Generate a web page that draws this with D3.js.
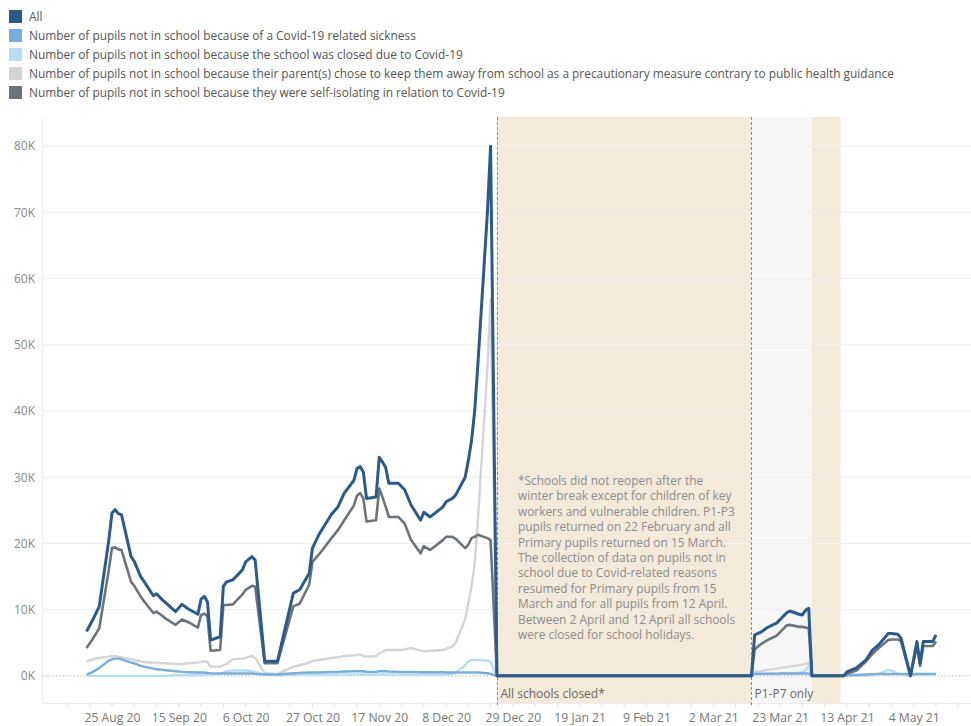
<!DOCTYPE html>
<html>
<head>
<meta charset="utf-8">
<script src="https://cdn.jsdelivr.net/npm/d3@7"></script>
<style>
  html, body { margin: 0; padding: 0; background: #fff; }
  svg { display: block; font-family: "Open Sans", "Noto Sans", sans-serif; }
</style>
</head>
<body>
<svg id="chart" width="971" height="726"></svg>
<script>
// ---------------- DATA ----------------
const dates = [
  "2020-08-17","2020-08-19","2020-08-21","2020-08-24","2020-08-25","2020-08-26","2020-08-27","2020-08-28",
  "2020-08-31","2020-09-01","2020-09-03","2020-09-04","2020-09-07","2020-09-08","2020-09-10","2020-09-11",
  "2020-09-14","2020-09-16","2020-09-18","2020-09-21","2020-09-22","2020-09-23","2020-09-24","2020-09-25",
  "2020-09-28","2020-09-29","2020-09-30","2020-10-02","2020-10-05","2020-10-06","2020-10-08","2020-10-09",
  "2020-10-12","2020-10-16","2020-10-21","2020-10-23","2020-10-26","2020-10-27","2020-10-29","2020-11-02",
  "2020-11-04","2020-11-06","2020-11-09","2020-11-10","2020-11-11","2020-11-12","2020-11-13","2020-11-16",
  "2020-11-17","2020-11-18","2020-11-19","2020-11-20","2020-11-23","2020-11-25","2020-11-27","2020-11-30",
  "2020-12-01","2020-12-03","2020-12-07","2020-12-08","2020-12-10","2020-12-11","2020-12-14","2020-12-15",
  "2020-12-16","2020-12-17","2020-12-18","2020-12-21","2020-12-22","2020-12-24",
  "2021-03-14","2021-03-15","2021-03-17","2021-03-19","2021-03-22","2021-03-23","2021-03-25","2021-03-26",
  "2021-03-29","2021-03-30","2021-03-31","2021-04-01","2021-04-02",
  "2021-04-12","2021-04-13","2021-04-16","2021-04-19","2021-04-21","2021-04-23","2021-04-26","2021-04-27",
  "2021-04-29","2021-04-30","2021-05-03","2021-05-05","2021-05-06","2021-05-07","2021-05-10","2021-05-11"
];

// values in thousands of pupils
const allPupils = [
  6.7, 8.5, 10.5, 20.5, 24.6, 25.1, 24.5, 24.3,
  18.0, 17.3, 15.0, 14.3, 12.1, 12.4, 11.4, 11.0,
  9.7, 10.8, 10.1, 9.3, 11.6, 12.0, 11.2, 5.4,
  5.9, 13.5, 14.2, 14.5, 16.0, 17.2, 18.0, 17.5,
  2.2, 2.2, 12.5, 13.0, 15.5, 19.3, 21.3, 24.4,
  25.5, 27.6, 29.5, 31.3, 31.6, 30.8, 26.8, 27.0,
  33.0, 32.3, 31.5, 29.1, 29.1, 28.1, 25.8, 23.5,
  24.7, 24.0, 25.5, 26.3, 26.8, 27.3, 30.0, 32.5,
  35.5, 40.0, 47.0, 70.0, 80.0, 0,
  0, 6.2, 6.6, 7.3, 8.0, 8.5, 9.5, 9.8,
  9.3, 9.2, 9.9, 10.2, 0,
  0, 0.6, 1.2, 2.4, 3.9, 4.7, 6.4, 6.4,
  6.3, 5.7, 0, 5.2, 1.9, 5.2, 5.2, 6.2
];

const sickness = [
  0.2, 0.6, 1.2, 2.3, 2.5, 2.6, 2.6, 2.5,
  2.0, 1.9, 1.5, 1.4, 1.1, 1.0, 0.9, 0.85,
  0.7, 0.6, 0.55, 0.5, 0.5, 0.5, 0.45, 0.4,
  0.35, 0.35, 0.35, 0.35, 0.35, 0.35, 0.35, 0.3,
  0.2, 0.2, 0.4, 0.45, 0.5, 0.5, 0.5, 0.6,
  0.6, 0.65, 0.7, 0.7, 0.7, 0.7, 0.6, 0.6,
  0.7, 0.7, 0.7, 0.65, 0.6, 0.6, 0.6, 0.55,
  0.55, 0.55, 0.55, 0.5, 0.5, 0.5, 0.5, 0.5,
  0.5, 0.5, 0.5, 0.4, 0.3, 0,
  0, 0.3, 0.3, 0.3, 0.3, 0.35, 0.35, 0.35,
  0.35, 0.35, 0.35, 0.35, 0,
  0, 0.1, 0.15, 0.2, 0.25, 0.3, 0.3, 0.3,
  0.3, 0.3, 0.2, 0.3, 0.3, 0.3, 0.3, 0.3
];

const schoolClosed = [
  0, 0, 0, 0, 0, 0, 0, 0,
  0, 0, 0, 0, 0, 0, 0, 0,
  0.1, 0.1, 0.1, 0.1, 0.1, 0.2, 0.2, 0.2,
  0.3, 0.5, 0.7, 0.8, 0.8, 0.8, 0.7, 0.6,
  0.2, 0.1, 0.2, 0.2, 0.2, 0.2, 0.2, 0.2,
  0.2, 0.2, 0.2, 0.2, 0.2, 0.2, 0.2, 0.2,
  0.2, 0.2, 0.2, 0.2, 0.2, 0.2, 0.2, 0.2,
  0.2, 0.2, 0.2, 0.2, 0.3, 0.5, 1.6, 2.2,
  2.4, 2.4, 2.4, 2.3, 2.1, 0,
  0, 0.4, 0.4, 0.4, 0.4, 0.4, 0.4, 0.4,
  0.5, 0.6, 0.9, 1.5, 0,
  0, 0.05, 0.05, 0.1, 0.2, 0.3, 0.9, 0.8,
  0.3, 0.2, 0.1, 0.2, 0.2, 0.2, 0.3, 0.3
];

const precaution = [
  2.2, 2.5, 2.7, 2.9, 3.0, 3.0, 2.9, 2.8,
  2.5, 2.4, 2.2, 2.1, 2.0, 2.0, 1.9, 1.9,
  1.8, 1.8, 1.9, 2.0, 2.1, 2.2, 2.1, 1.4,
  1.4, 1.6, 1.8, 2.5, 2.6, 2.7, 3.0, 2.7,
  0.4, 0.3, 1.4, 1.6, 2.0, 2.2, 2.4, 2.7,
  2.8, 3.0, 3.1, 3.2, 3.2, 3.0, 2.9, 3.0,
  3.4, 3.6, 3.9, 3.9, 3.9, 4.0, 4.2, 3.8,
  3.7, 3.8, 3.9, 4.1, 4.4, 5.0, 8.5, 11.0,
  13.5, 17.0, 23.5, 46.5, 57.0, 0,
  0, 0.6, 0.7, 0.9, 1.1, 1.2, 1.3, 1.4,
  1.6, 1.7, 1.8, 1.9, 0,
  0, 0.05, 0.1, 0.1, 0.15, 0.2, 0.2, 0.2,
  0.2, 0.2, 0.1, 0.2, 0.2, 0.2, 0.2, 0.2
];

const selfIsolating = [
  4.2, 5.6, 7.2, 16.0, 19.3, 19.4, 19.1, 19.0,
  14.2, 13.6, 12.0, 11.3, 9.5, 9.7, 9.0, 8.6,
  7.7, 8.5, 8.1, 7.3, 9.2, 9.4, 9.0, 3.8,
  3.9, 10.7, 10.7, 10.8, 12.3, 13.0, 13.6, 13.5,
  1.9, 1.9, 10.5, 10.9, 13.8, 17.2, 18.3, 20.8,
  22.0, 23.5, 25.7, 27.2, 27.6, 26.8, 23.3, 23.5,
  28.3, 27.0, 25.6, 24.0, 24.0, 23.0, 20.5, 18.5,
  19.6, 19.0, 20.5, 21.0, 21.0, 20.7, 19.3, 19.8,
  20.8, 21.0, 21.3, 20.8, 20.5, 0,
  0, 4.0, 4.8, 5.4, 6.1, 6.6, 7.6, 7.7,
  7.4, 7.4, 7.3, 7.2, 0,
  0, 0.3, 0.8, 2.2, 3.3, 4.2, 5.4, 5.5,
  5.5, 5.2, 0, 4.5, 1.5, 4.5, 4.5, 5.2
];

const seriesNames = [
  "All",
  "Number of pupils not in school because of a Covid-19 related sickness",
  "Number of pupils not in school because the school was closed due to Covid-19",
  "Number of pupils not in school because their parent(s) chose to keep them away from school as a precautionary measure contrary to public health guidance",
  "Number of pupils not in school because they were self-isolating in relation to Covid-19"
];
const seriesColors = ["#2b5b8c", "#78aedb", "#b7ddf3", "#d4d4d4", "#6c747b"];

const yTickValues = [0, 10, 20, 30, 40, 50, 60, 70, 80];
const xTickLabels = ["2020-08-25","2020-09-15","2020-10-06","2020-10-27","2020-11-17","2020-12-08",
                     "2020-12-29","2021-01-19","2021-02-09","2021-03-02","2021-03-23","2021-04-13","2021-05-04"];

const closedBands = [
  { start: "2020-12-24", end: "2021-03-14", kind: "closed" },
  { start: "2021-03-14", end: "2021-04-02", kind: "primary" },
  { start: "2021-04-02", end: "2021-04-11", kind: "closed" }
];
const markerLines = [
  { date: "2020-12-24", label: "All schools closed*" },
  { date: "2021-03-14", label: "P1-P7 only" }
];
const noteLines = [
  "*Schools did not reopen after the",
  "winter break except for children of key",
  "workers and vulnerable children. P1-P3",
  "pupils returned on 22 February and all",
  "Primary pupils returned on 15 March.",
  "The collection of data on pupils not in",
  "school due to Covid-related reasons",
  "resumed for Primary pupils from 15",
  "March and for all pupils from 12 April.",
  "Between 2 April and 12 April all schools",
  "were closed for school holidays."
];

// ---------------- CHART ----------------
const parse = d3.timeParse("%Y-%m-%d");
const svg = d3.select("#chart");
const plot = { left: 42, right: 971, top: 117, bottom: 703 };

const x = d3.scaleTime()
  .domain([parse("2020-08-03"), parse("2021-05-22")])
  .range([plot.left, plot.right]);
const y = d3.scaleLinear()
  .domain([-4.1, 84.4])
  .range([plot.bottom, plot.top]);

// Legend
const legend = svg.append("g").attr("class", "legend");
seriesNames.forEach((name, i) => {
  const gy = 10 + i * 19;
  legend.append("rect").attr("x", 9).attr("y", gy).attr("width", 13).attr("height", 13)
    .attr("fill", seriesColors[i]);
  legend.append("text").attr("x", 29).attr("y", gy + 10.8)
    .attr("font-size", 11.9).attr("fill", "#555").text(name);
});

// Bands
const bandColor = { closed: "#f3ead9", primary: "#f6f6f6" };
svg.append("g").selectAll("rect").data(closedBands).join("rect")
  .attr("x", d => x(parse(d.start)))
  .attr("width", d => x(parse(d.end)) - x(parse(d.start)))
  .attr("y", plot.top).attr("height", plot.bottom - plot.top)
  .attr("fill", d => bandColor[d.kind]);

// Gridlines
svg.append("g").selectAll("line").data(yTickValues.filter(v => v !== 0)).join("line")
  .attr("x1", plot.left).attr("x2", plot.right)
  .attr("y1", d => y(d)).attr("y2", d => y(d))
  .attr("stroke", "#efefef").attr("stroke-width", 1);

// Left axis line & bottom axis line
svg.append("line").attr("x1", plot.left + 0.5).attr("x2", plot.left + 0.5)
  .attr("y1", plot.top).attr("y2", plot.bottom).attr("stroke", "#ececec");
svg.append("line").attr("x1", plot.left).attr("x2", plot.right)
  .attr("y1", plot.bottom + 0.5).attr("y2", plot.bottom + 0.5).attr("stroke", "#ececec");

// Weekly minor ticks along bottom
const weekTicks = d3.timeWeek.every(1).range(parse("2020-08-04"), parse("2021-05-22"))
  .map(d => d3.timeDay.offset(d, 2));
svg.append("g").selectAll("line").data(weekTicks).join("line")
  .attr("x1", d => x(d)).attr("x2", d => x(d))
  .attr("y1", plot.bottom).attr("y2", plot.bottom + 4)
  .attr("stroke", "#e3e3e3");

// Y axis
const yAxis = d3.axisLeft(y).tickValues(yTickValues).tickFormat(d => d + "K").tickSize(0).tickPadding(7);
const gy = svg.append("g").attr("transform", `translate(${plot.left},0)`).call(yAxis);
gy.select(".domain").remove();
gy.selectAll("text").attr("font-size", 12).attr("fill", "#888").attr("font-family", "Open Sans, sans-serif");

// X axis
const xAxis = d3.axisBottom(x).tickValues(xTickLabels.map(parse))
  .tickFormat(d3.timeFormat("%-d %b %y")).tickSize(0).tickPadding(10);
const gx = svg.append("g").attr("transform", `translate(0,${plot.bottom})`).call(xAxis);
gx.select(".domain").remove();
gx.selectAll("text").attr("font-size", 12.2).attr("fill", "#777").attr("font-family", "Open Sans, sans-serif");

// Zero line (dotted)
svg.append("line").attr("x1", plot.left).attr("x2", plot.right)
  .attr("y1", y(0)).attr("y2", y(0))
  .attr("stroke", "#b5b5b5").attr("stroke-width", 1).attr("stroke-dasharray", "1.5,2");

// Marker dashed lines and labels
markerLines.forEach(m => {
  const mx = Math.round(x(parse(m.date))) + 0.5;
  svg.append("line").attr("x1", mx).attr("x2", mx).attr("y1", plot.top).attr("y2", plot.bottom + 2)
    .attr("stroke", "#8a8a8a").attr("stroke-width", 1).attr("stroke-dasharray", "3,2");
  svg.append("text").attr("x", mx + 3).attr("y", 698).attr("font-size", 12)
    .attr("fill", "#666").text(m.label);
});

// Note text
const noteX = x(parse("2020-12-24")) + 21;
const note = svg.append("text").attr("x", noteX).attr("y", 485)
  .attr("font-size", 11.9).attr("fill", "#8c8c8c");
noteLines.forEach((t, i) => {
  note.append("tspan").attr("x", noteX).attr("dy", i === 0 ? 0 : 15.4).text(t);
});

// Lines
const table = dates.map((d, i) => ({
  date: parse(d),
  values: [allPupils[i], sickness[i], schoolClosed[i], precaution[i], selfIsolating[i]]
}));
const line = k => d3.line().x(d => x(d.date)).y(d => y(d.values[k]));
const drawOrder = [3, 2, 1, 4, 0];
const widths = [3, 2.4, 2.4, 2.4, 2.6];
drawOrder.forEach(k => {
  svg.append("path").datum(table)
    .attr("fill", "none")
    .attr("stroke", seriesColors[k])
    .attr("stroke-width", widths[k])
    .attr("stroke-linejoin", "round")
    .attr("d", line(k));
});
</script>
</body>
</html>
